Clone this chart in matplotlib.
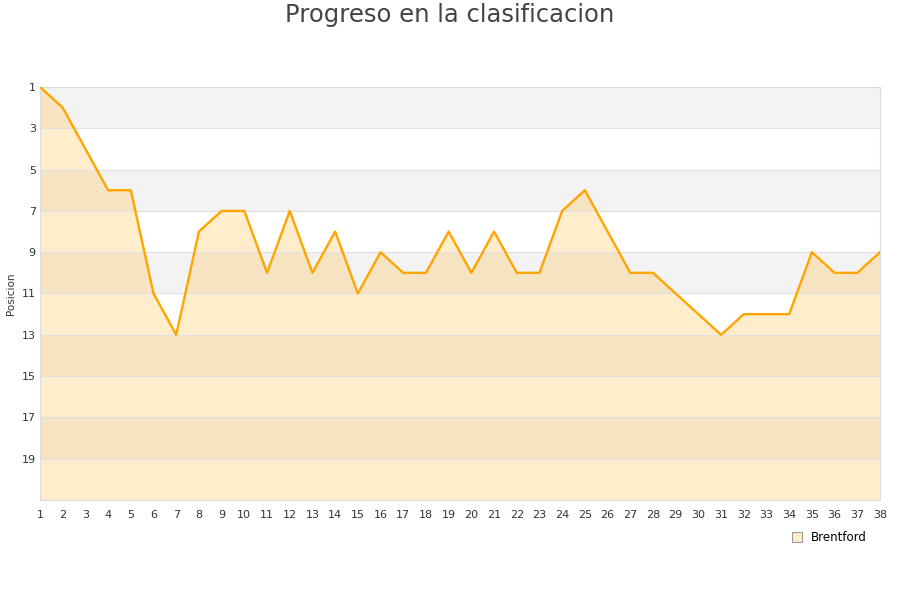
import numpy as np
import matplotlib.pyplot as plt
from matplotlib.patches import Patch

# Jornadas y posiciones
jornadas = list(range(1, 39))
posiciones = [1, 2, 4, 6, 6, 11, 13, 8, 7, 7,
              10, 7, 10, 8, 11, 9, 10, 10, 8, 10,
              8, 10, 10, 7, 6, 8, 10, 10, 11, 12,
              13, 12, 12, 12, 9, 10, 10, 9]
y_ticks = [1, 3, 5, 7, 9, 11, 13, 15, 17, 19]
equipo = 'Brentford'

fig = plt.figure(figsize=(9, 6), dpi=100)
ax = fig.add_axes([40 / 900, 100 / 600, 840 / 900, 413 / 600])

# bandas alternas
for start in range(1, 21, 4):
    ax.axhspan(start, start + 2, color='#f3f3f3', zorder=0, lw=0)

ax.fill_between(jornadas, posiciones, 21, color='#ffa500', alpha=0.2, lw=0, zorder=1)
ax.plot(jornadas, posiciones, color='#ffa500', lw=1.7, zorder=3)

ax.set_xlim(1, 38)
ax.set_ylim(21, 1)
ax.set_xticks(jornadas)
ax.set_yticks(y_ticks)
ax.tick_params(axis='both', length=0, labelsize=8, colors='#333333')
ax.tick_params(axis='x', pad=7)
ax.tick_params(axis='y', pad=3)
for y in y_ticks:
    ax.axhline(y, color='#e0e0e0', lw=0.8, zorder=2)
for s in ax.spines.values():
    s.set_color('#dddddd')
    s.set_linewidth(0.8)

ax.set_ylabel('Posicion', fontsize=7.5, color='#333333')
ax.yaxis.set_label_coords(-0.028, 0.5)
fig.suptitle('Progreso en la clasificacion', fontsize=17.5, color='#444444', y=0.995)

handle = Patch(facecolor='#ffedcc', edgecolor='#999999', linewidth=0.8)
fig.legend([handle], [equipo], loc='center right', bbox_to_anchor=(0.975, 0.104),
           frameon=False, fontsize=8.5, handlelength=0.8, handleheight=0.8,
           handletextpad=0.8)

fig.savefig('out.png', dpi=100)
